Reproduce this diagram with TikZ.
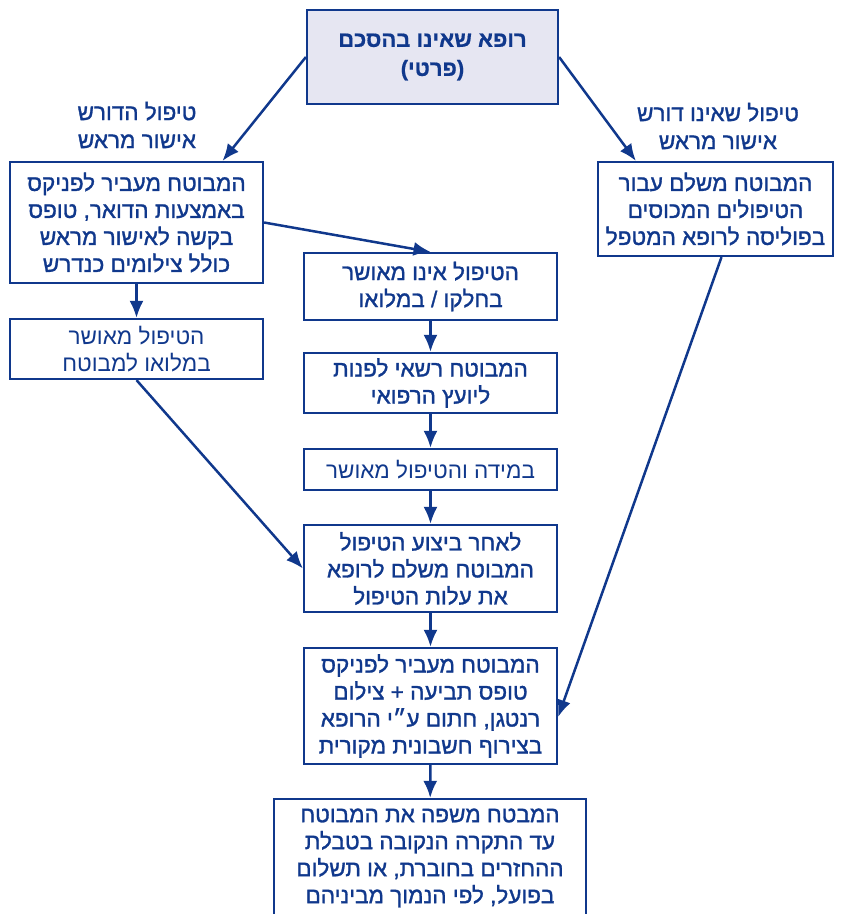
\documentclass[tikz,border=0pt]{standalone}
\usepackage{fontspec}
\usepackage{tikz}
\usetikzlibrary{arrows.meta}
\TeXXeTstate=1
\newfontfamily\hebfont[Script=Hebrew,FakeBold=1.3]{Liberation Sans}
\newfontfamily\heblight[Script=Hebrew]{Liberation Sans}
\newfontfamily\hebbold[Script=Hebrew,FakeBold=0.6]{Liberation Sans Bold}
\newcommand{\heb}[1]{\beginR #1\endR}
\definecolor{navy}{RGB}{16,56,140}
\definecolor{lav}{RGB}{230,230,242}
\tikzset{
	box/.style={draw=navy,line width=2.2pt,text=navy,align=center,inner sep=0pt,
		minimum width=253pt,font={\hebfont\fontsize{22.5}{27}\selectfont}},
	lightbox/.style={box,font={\heblight\fontsize{22.5}{27}\selectfont}},
	lbl/.style={text=navy,align=center,font={\hebfont\fontsize{22.5}{28}\selectfont}},
	arr/.style={-{Latex[length=17pt,width=14pt]},draw=navy,line width=2.5pt}
}
\begin{document}
\begin{tikzpicture}[x=1pt,y=-1pt]
				\useasboundingbox (0,0) rectangle (847,914);
				\node[box,fill=lav,minimum width=251pt,minimum height=94pt,font={\hebbold\fontsize{22}{29}\selectfont}] (top) at (432.5,57) {\heb{רופא שאינו בהסכם}\\\heb{(פרטי)}};
				\node[lbl] (lblL) at (137,125) {\heb{טיפול הדורש}\\\heb{אישור מראש}};
				\node[lbl] (lblR) at (718,126) {\heb{טיפול שאינו דורש}\\\heb{אישור מראש}};
				\node[box,minimum height=121pt] (req) at (136.5,222.5) {\heb{המבוטח מעביר לפניקס}\\\heb{באמצעות הדואר, טופס}\\\heb{בקשה לאישור מראש}\\\heb{כולל צילומים כנדרש}};
				\node[box,minimum width=235pt,minimum height=94pt] (pay) at (715.5,209) {\heb{המבוטח משלם עבור}\\\heb{הטיפולים המכוסים}\\\heb{בפוליסה לרופא המטפל}};
				\node[box,minimum height=67pt] (rej) at (430.5,286.5) {\heb{הטיפול אינו מאושר}\\\heb{בחלקו / במלואו}};
				\node[lightbox,minimum height=60pt] (ok) at (136.5,349) {\heb{הטיפול מאושר}\\\heb{במלואו למבוטח}};
				\node[box,minimum height=60pt] (adv) at (430.5,383) {\heb{המבוטח רשאי לפנות}\\\heb{ליועץ הרפואי}};
				\node[lightbox,minimum height=41pt] (ifok) at (430.5,469.5) {\heb{במידה והטיפול מאושר}};
				\node[box,minimum height=87pt] (done) at (430.5,568.5) {\heb{לאחר ביצוע הטיפול}\\\heb{המבוטח משלם לרופא}\\\heb{את עלות הטיפול}};
				\node[box,minimum height=116pt] (claim) at (430.5,706) {\heb{המבוטח מעביר לפניקס}\\\heb{טופס תביעה + צילום}\\\heb{רנטגן, חתום ע״י הרופא}\\\heb{בצירוף חשבונית מקורית}};
				\node[box,minimum width=312pt,minimum height=118pt] (refund) at (430,858) {\heb{המבטח משפה את המבוטח}\\\heb{עד התקרה הנקובה בטבלת}\\\heb{ההחזרים בחוברת, או תשלום}\\\heb{בפועל, לפי הנמוך מביניהם}};
				% arrows
				\draw[arr] (top.west) -- ([xshift=86pt]req.north);
				\draw[arr] (top.east) -- ([xshift=39pt]pay.north west);
				\draw[arr] (req.east) -- (rej.north);
				\draw[arr] (req.south) -- (ok.north);
				\draw[arr] (ok.south) -- (done.west);
				\draw[arr] (rej) -- (adv);
				\draw[arr] (adv) -- (ifok);
				\draw[arr] (ifok) -- (done);
				\draw[arr] (done) -- (claim);
				\draw[arr] (claim) -- (refund);
				\draw[arr] ([xshift=6pt]pay.south) -- ([yshift=-11pt]claim.east);
			\end{tikzpicture}
\end{document}
